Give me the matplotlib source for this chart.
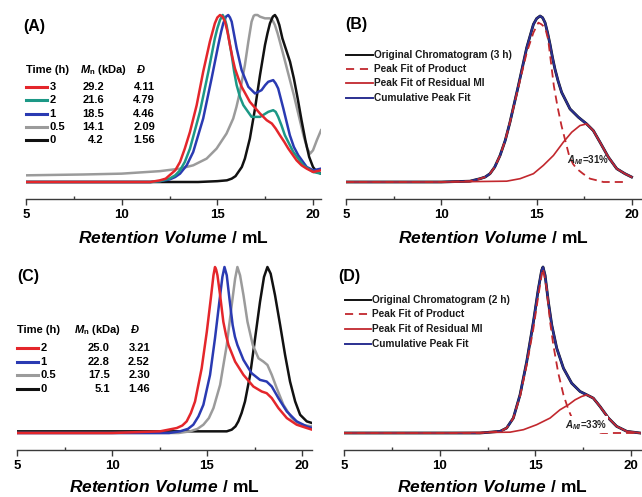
import matplotlib
matplotlib.use('Agg')
import matplotlib.pyplot as plt
from matplotlib.lines import Line2D

# ---------------- data (normalised detector response vs retention volume, mL) -------------
# Panel A
A_times = ['3', '2', '1', '0.5', '0']
A_mn = ['29.2', '21.6', '18.5', '14.1', '4.2']
A_disp = ['4.11', '4.79', '4.46', '2.09', '1.56']

A_red_x = [5.0, 9.0, 11.5, 12.0, 12.3, 12.5, 12.8, 13.05, 13.3, 13.57, 13.92, 14.26, 14.61, 14.87, 15.0, 15.14,
           15.27, 15.40, 15.53, 15.66, 15.8, 15.92, 16.1, 16.27, 16.70, 17.23, 17.58, 17.85, 18.05, 18.27, 18.5,
           18.71, 19.14, 19.4, 19.67, 20.01, 20.42]
A_red_y = [0.0, 0.0, 0.0, 0.01, 0.02, 0.04, 0.07, 0.12, 0.20, 0.30, 0.46, 0.66, 0.84, 0.95, 0.985, 1.0,
           0.99, 0.96, 0.90, 0.82, 0.74, 0.68, 0.62, 0.57, 0.48, 0.41, 0.37, 0.35, 0.32, 0.28, 0.24,
           0.20, 0.13, 0.10, 0.08, 0.06, 0.07]

A_green_x = [5.0, 9.0, 11.5, 12.0, 12.5, 12.8, 13.05, 13.3, 13.57, 14.09, 14.53, 14.87, 15.0, 15.14, 15.28, 15.38,
             15.48, 15.6, 15.75, 15.88, 16.01, 16.18, 16.36, 16.79, 17.23, 17.45, 17.66, 17.92, 18.05, 18.18,
             18.35, 18.53, 18.97, 19.49, 20.01, 20.42]
A_green_y = [0.0, 0.0, 0.0, 0.005, 0.02, 0.04, 0.07, 0.12, 0.20, 0.42, 0.66, 0.86, 0.92, 0.97, 1.0, 0.98,
             0.94, 0.86, 0.76, 0.66, 0.58, 0.51, 0.46, 0.39, 0.39, 0.405, 0.42, 0.43, 0.42, 0.39,
             0.34, 0.28, 0.18, 0.10, 0.06, 0.05]

A_blue_x = [5.0, 9.0, 11.5, 12.0, 12.5, 12.8, 13.05, 13.4, 13.74, 14.26, 14.70, 15.05, 15.2, 15.31, 15.45, 15.57,
            15.66, 15.75, 15.88, 16.01, 16.27, 16.62, 16.97, 17.31, 17.5, 17.66, 17.92, 18.05, 18.18, 18.45,
            18.79, 19.0, 19.23, 19.67, 20.01, 20.42]
A_blue_y = [0.0, 0.0, 0.0, 0.005, 0.015, 0.03, 0.05, 0.10, 0.18, 0.38, 0.62, 0.82, 0.90, 0.95, 0.99, 1.0,
            0.985, 0.96, 0.88, 0.80, 0.67, 0.57, 0.53, 0.55, 0.58, 0.60, 0.61, 0.59, 0.56, 0.44,
            0.28, 0.21, 0.16, 0.09, 0.07, 0.08]

A_gray_x = [5.0, 8.0, 10.0, 12.0, 13.05, 13.74, 14.44, 14.96, 15.48, 15.83, 16.0, 16.18, 16.44, 16.62, 16.79,
            16.9, 16.97, 17.1, 17.23, 17.49, 17.75, 17.9, 18.01, 18.15, 18.27, 18.5, 18.75, 19.0, 19.25,
            19.5, 19.7, 19.85, 20.0, 20.2, 20.42]
A_gray_y = [0.04, 0.045, 0.05, 0.065, 0.08, 0.10, 0.14, 0.20, 0.29, 0.38, 0.45, 0.54, 0.70, 0.84, 0.96,
            0.995, 1.0, 1.0, 0.99, 0.98, 0.98, 0.965, 0.94, 0.89, 0.84, 0.74, 0.63, 0.52, 0.40,
            0.28, 0.20, 0.17, 0.19, 0.25, 0.31]

A_black_x = [5.0, 10.0, 14.0, 15.0, 15.5, 15.75, 15.95, 16.10, 16.28, 16.44, 16.70, 16.97, 17.23, 17.49, 17.62,
             17.75, 17.9, 18.01, 18.12, 18.24, 18.4, 18.6, 18.8, 19.0, 19.2, 19.4, 19.6, 19.8, 20.0, 20.2, 20.42]
A_black_y = [0.0, 0.0, 0.0, 0.005, 0.01, 0.02, 0.035, 0.06, 0.09, 0.14, 0.26, 0.44, 0.64, 0.82, 0.89,
             0.95, 0.99, 1.0, 0.98, 0.94, 0.86, 0.79, 0.72, 0.62, 0.50, 0.37, 0.25, 0.15, 0.09, 0.06, 0.05]

# Panel B (3 h peak fit)
B_orig_x = [5.0, 10.0, 11.5, 12.03, 12.3, 12.55, 12.8, 13.08, 13.35, 13.60, 14.04, 14.48, 14.83, 15.0, 15.18,
            15.31, 15.44, 15.57, 15.70, 15.83, 15.96, 16.12, 16.31, 16.75, 17.19, 17.62, 17.97, 18.32, 18.76,
            19.2, 19.63, 19.98]
B_orig_y = [0.0, 0.0, 0.005, 0.02, 0.03, 0.05, 0.09, 0.16, 0.25, 0.36, 0.58, 0.81, 0.95, 0.985, 1.0,
            0.99, 0.96, 0.90, 0.83, 0.75, 0.68, 0.61, 0.54, 0.44, 0.39, 0.35, 0.31, 0.24, 0.15,
            0.08, 0.05, 0.03]
B_cum_x = B_orig_x
B_cum_y = B_orig_y
B_res_x = [5.0, 10.0, 13.43, 14.13, 14.83, 15.35, 15.88, 16.40, 16.84, 17.27, 17.62, 17.97, 18.32, 18.76, 19.2,
           19.63, 19.98]
B_res_y = [0.0, 0.0, 0.005, 0.02, 0.05, 0.10, 0.16, 0.24, 0.30, 0.34, 0.35, 0.31, 0.24, 0.15, 0.08,
           0.05, 0.03]
B_prod_x = [5.0, 10.0, 11.5, 12.03, 12.3, 12.55, 12.8, 13.08, 13.35, 13.60, 14.04, 14.48, 14.83, 15.09, 15.25,
            15.44, 15.6, 15.75, 15.9, 16.1, 16.3, 16.5, 16.7, 16.9, 17.1, 17.43, 17.8, 18.16, 18.5, 19.73]
B_prod_y = [0.0, 0.0, 0.005, 0.02, 0.03, 0.05, 0.09, 0.16, 0.25, 0.36, 0.57, 0.78, 0.90, 0.96, 0.95,
            0.93, 0.86, 0.72, 0.58, 0.45, 0.34, 0.25, 0.16, 0.11, 0.08, 0.05, 0.02, 0.01, 0.0, 0.0]
B_area = '=31%'

# Panel C
C_times = ['2', '1', '0.5', '0']
C_mn = ['25.0', '22.8', '17.5', '5.1']
C_disp = ['3.21', '2.52', '2.30', '1.46']

C_red_x = [5.0, 10.0, 12.53, 13.41, 13.7, 13.93, 14.15, 14.37, 14.72, 14.99, 15.2, 15.28, 15.34, 15.42, 15.48,
           15.55, 15.69, 15.86, 16.0, 16.13, 16.48, 16.92, 17.44, 17.88, 18.14, 18.41, 18.76, 19.2, 19.72,
           20.25, 20.53]
C_red_y = [0.0, 0.0, 0.01, 0.03, 0.045, 0.07, 0.12, 0.19, 0.39, 0.61, 0.81, 0.89, 0.95, 1.0, 0.985,
           0.95, 0.83, 0.67, 0.59, 0.53, 0.43, 0.35, 0.28, 0.25, 0.24, 0.21, 0.15, 0.09, 0.05,
           0.03, 0.02]

C_blue_x = [5.0, 10.0, 13.0, 13.58, 14.0, 14.28, 14.55, 14.81, 15.16, 15.42, 15.65, 15.81, 15.92, 16.04, 16.18,
            16.35, 16.47, 16.6, 16.92, 17.35, 17.79, 18.14, 18.41, 18.76, 19.2, 19.72, 20.25, 20.53]
C_blue_y = [0.0, 0.0, 0.0, 0.01, 0.025, 0.05, 0.10, 0.17, 0.35, 0.57, 0.79, 0.94, 1.0, 0.95, 0.81,
            0.65, 0.58, 0.53, 0.44, 0.36, 0.32, 0.31, 0.28, 0.21, 0.13, 0.07, 0.04, 0.03]

C_gray_x = [5.0, 10.0, 13.5, 14.11, 14.5, 14.81, 15.1, 15.34, 15.69, 16.04, 16.30, 16.48, 16.6, 16.74, 16.92,
            17.13, 17.41, 17.71, 17.97, 18.18, 18.41, 18.67, 19.02, 19.46, 19.9, 20.53]
C_gray_y = [0.0, 0.0, 0.0, 0.01, 0.025, 0.05, 0.09, 0.15, 0.29, 0.53, 0.77, 0.93, 1.0, 0.95, 0.83,
            0.67, 0.53, 0.45, 0.43, 0.41, 0.35, 0.27, 0.17, 0.09, 0.05, 0.04]

C_black_x = [5.0, 10.0, 15.0, 16.04, 16.30, 16.5, 16.65, 16.82, 17.0, 17.27, 17.53, 17.79, 18.0, 18.18, 18.35,
             18.58, 18.85, 19.11, 19.37, 19.64, 19.9, 20.25, 20.53]
C_black_y = [0.01, 0.01, 0.01, 0.01, 0.02, 0.04, 0.07, 0.12, 0.19, 0.35, 0.57, 0.79, 0.94, 1.0, 0.96,
             0.83, 0.65, 0.47, 0.31, 0.19, 0.11, 0.07, 0.06]

# Panel D (2 h peak fit)
D_cum_x = [5.0, 10.0, 12.11, 13.16, 13.5, 13.85, 14.2, 14.55, 14.9, 15.16, 15.33, 15.40, 15.51, 15.68, 15.86,
           16.12, 16.47, 16.9, 17.34, 17.69, 18.03, 18.38, 18.82, 19.25, 19.78, 20.47]
D_cum_y = [0.0, 0.0, 0.0, 0.01, 0.03, 0.09, 0.23, 0.43, 0.67, 0.87, 0.98, 1.0, 0.95, 0.79, 0.65,
           0.51, 0.39, 0.30, 0.25, 0.23, 0.21, 0.16, 0.09, 0.04, 0.01, 0.0]
D_orig_x = D_cum_x
D_orig_y = D_cum_y
D_res_x = [5.0, 10.0, 13.68, 14.38, 15.07, 15.77, 16.29, 16.73, 17.08, 17.42, 17.69, 18.03, 18.38, 18.82, 19.25,
           19.78, 20.47]
D_res_y = [0.0, 0.0, 0.005, 0.02, 0.05, 0.09, 0.14, 0.17, 0.20, 0.22, 0.23, 0.21, 0.16, 0.09, 0.04,
           0.01, 0.0]
D_prod_x = [5.0, 10.0, 12.11, 13.16, 13.5, 13.85, 14.2, 14.55, 14.9, 15.16, 15.33, 15.40, 15.59, 15.77, 15.94,
            16.2, 16.47, 16.73, 16.99, 17.34, 17.86, 18.5, 20.47]
D_prod_y = [0.0, 0.0, 0.0, 0.01, 0.03, 0.09, 0.22, 0.41, 0.63, 0.83, 0.95, 0.99, 0.87, 0.67, 0.53,
            0.36, 0.23, 0.14, 0.07, 0.03, 0.01, 0.0, 0.0]
D_area = '=33%'

fit_labels_B = ['Original Chromatogram (3 h)', 'Peak Fit of Product', 'Peak Fit of Residual MI', 'Cumulative Peak Fit']
fit_labels_D = ['Original Chromatogram (2 h)', 'Peak Fit of Product', 'Peak Fit of Residual MI', 'Cumulative Peak Fit']

# ---------------- styling ----------------
plt.rcParams.update({
    'font.family': ['Liberation Sans', 'DejaVu Sans'],
    'font.weight': 'bold',
    'mathtext.fontset': 'custom',
    'mathtext.it': 'Liberation Sans:italic:bold',
    'mathtext.rm': 'Liberation Sans:bold',
    'mathtext.bf': 'Liberation Sans:bold',
})

RED = '#e4262b'
GREEN = '#1c9886'
BLUE = '#2a3ab2'
GRAY = '#9b9b9b'
BLACK = '#111111'
FRED = '#c2282e'
FBLUE = '#2b3090'
AXC = '#3a3a3a'

W, H = 642, 497
fig = plt.figure(figsize=(W / 100, H / 100), dpi=100)


def fx(px):
    return px / W


def fy(py):
    return 1 - py / H


def make_axes(x0, x1, y_top, y_axis, x_at20, baseline, lpad):
    ax = fig.add_axes([x0 / W, 1 - y_axis / H, (x1 - x0) / W, (y_axis - y_top) / H])
    xmax = 5 + 15 * (x1 - x0) / (x_at20 - x0)
    unit = baseline - (y_top + 10)  # pixels per unit response (peak ~10px below top)
    ax.set_xlim(5, xmax)
    ax.set_ylim(-(y_axis - baseline) / unit, (baseline - y_top) / unit)
    for s in ['left', 'top', 'right']:
        ax.spines[s].set_visible(False)
    ax.spines['bottom'].set_color(AXC)
    ax.spines['bottom'].set_linewidth(1.0)
    ax.yaxis.set_visible(False)
    ax.set_xticks([5, 10, 15, 20])
    ax.set_xticks([7.5, 12.5, 17.5], minor=True)
    ax.tick_params(axis='x', which='major', direction='out', length=4, width=1, color=AXC,
                   labelsize=9.5, pad=3)
    ax.tick_params(axis='x', which='minor', direction='in', length=2, width=1, color=AXC)
    ax.set_xlabel(r'$\mathit{Retention\ Volume}\ \mathbf{/\ mL}$', fontsize=12.5, labelpad=lpad)
    ax.patch.set_alpha(0)
    return ax


axA = make_axes(26, 321, 5, 199, 313, 182, 7)
axB = make_axes(346, 641, 6, 199, 632, 182, 7)
axC = make_axes(17, 312, 257, 450, 302, 433, 5)
axD = make_axes(344, 641, 257, 450, 631, 433, 5)

# ---- Panel A ----
lw = 1.8
axA.plot(A_gray_x, A_gray_y, color=GRAY, lw=lw)
axA.plot(A_black_x, A_black_y, color=BLACK, lw=lw)
axA.plot(A_blue_x, A_blue_y, color=BLUE, lw=lw)
axA.plot(A_green_x, A_green_y, color=GREEN, lw=lw)
axA.plot(A_red_x, A_red_y, color=RED, lw=lw)

# ---- Panel C ----
axC.plot(C_black_x, C_black_y, color=BLACK, lw=lw)
axC.plot(C_gray_x, C_gray_y, color=GRAY, lw=lw)
axC.plot(C_blue_x, C_blue_y, color=BLUE, lw=lw)
axC.plot(C_red_x, C_red_y, color=RED, lw=lw)

# ---- Panels B and D ----
dash = (0, (4.5, 2.8))
for ax, ox, oy, cx, cy, rx, ry, px_, py_ in [
        (axB, B_orig_x, B_orig_y, B_cum_x, B_cum_y, B_res_x, B_res_y, B_prod_x, B_prod_y),
        (axD, D_orig_x, D_orig_y, D_cum_x, D_cum_y, D_res_x, D_res_y, D_prod_x, D_prod_y)]:
    ax.plot(ox, oy, color=BLACK, lw=2.0, zorder=2)
    ax.plot(cx, cy, color=FBLUE, lw=1.5, zorder=3)
    ax.plot(rx, ry, color=FRED, lw=1.2, zorder=4)
    ax.plot(px_, py_, color=FRED, lw=1.3, ls=dash, zorder=5)

axB.text(16.6, 0.13, r'$A_{MI}$' + B_area, fontsize=7, va='center', ha='left', color='#222222', zorder=6)
axD.text(16.55, 0.05, r'$A_{MI}$' + D_area, fontsize=7, va='center', ha='left', color='#222222', zorder=6,
         bbox=dict(facecolor='white', edgecolor='none', pad=1.0))

# ---- panel labels ----
for lab, x, y in [('(A)', 23, 27), ('(B)', 345, 25), ('(C)', 17, 277), ('(D)', 338, 277)]:
    fig.text(fx(x), fy(y), lab, fontsize=11.5, va='center', ha='left')


# ---- table legends (A, C) ----
def table(x_line0, x_line1, x_time, x_mnhead, x_mn_right, x_dhead, x_d_right, y_head, y_rows,
          times, mns, ds, colors):
    fs = 8
    fig.text(fx(x_line0), fy(y_head), 'Time (h)', fontsize=fs, va='center', ha='left')
    fig.text(fx(x_mnhead), fy(y_head), r'$M_\mathbf{n}\ \mathbf{(kDa)}$', fontsize=fs, va='center', ha='left')
    fig.text(fx(x_dhead), fy(y_head), 'Đ', fontsize=fs, va='center', ha='left', fontstyle='italic')
    for y, t, mn, d, c in zip(y_rows, times, mns, ds, colors):
        fig.add_artist(Line2D([fx(x_line0), fx(x_line1)], [fy(y), fy(y)], color=c, lw=2.2,
                              transform=fig.transFigure))
        fig.text(fx(x_time), fy(y), t, fontsize=fs, va='center', ha='left')
        fig.text(fx(x_mn_right), fy(y), mn, fontsize=fs, va='center', ha='right')
        fig.text(fx(x_d_right), fy(y), d, fontsize=fs, va='center', ha='right')


table(26, 47, 49.5, 80, 104, 137, 155, 70, [87, 100.3, 113.6, 126.9, 140.2],
      A_times, A_mn, A_disp, [RED, GREEN, BLUE, GRAY, BLACK])
table(17, 38, 40.5, 74, 110, 131, 150, 330, [348.3, 361.7, 375, 388.6],
      C_times, C_mn, C_disp, [RED, BLUE, GRAY, BLACK])


# ---- fit legends (B, D) ----
def fit_legend(x0, x1, ys, labels):
    styles = [dict(color=BLACK, lw=1.4), dict(color=FRED, lw=1.3, ls=(0, (4.5, 3.2))),
              dict(color=FRED, lw=1.3), dict(color=FBLUE, lw=1.4)]
    for y, lab, st in zip(ys, labels, styles):
        fig.add_artist(Line2D([fx(x0), fx(x1)], [fy(y), fy(y)], transform=fig.transFigure, **st))
        fig.text(fx(x1 + 1), fy(y), lab, fontsize=7.3, va='center', ha='left', color='#1a1a1a')


fit_legend(346, 373, [55, 69.3, 83.3, 98.3], fit_labels_B)
fit_legend(345, 371, [300, 314.3, 329, 344], fit_labels_D)

fig.savefig('out.png', dpi=100)
